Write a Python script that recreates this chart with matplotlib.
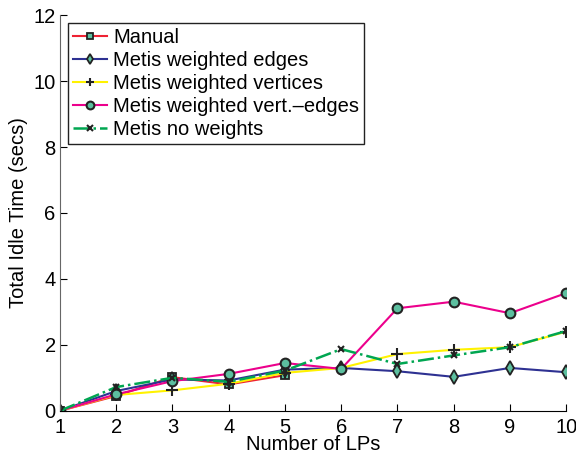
import numpy as np
import matplotlib
matplotlib.use('Agg')
import matplotlib.pyplot as plt

plt.rcParams['font.family'] = ['Liberation Sans', 'DejaVu Sans']

lps = [1, 2, 3, 4, 5, 6, 7, 8, 9, 10]

manual = [0, 0.45, 1.02, 0.8, 1.08]
w_edges = [0, 0.6, 0.95, 0.92, 1.25, 1.3, 1.2, 1.03, 1.3, 1.17]
w_vertices = [0, 0.48, 0.62, 0.82, 1.15, 1.3, 1.72, 1.85, 1.93, 2.4]
w_vert_edges = [0, 0.5, 0.9, 1.12, 1.45, 1.27, 3.11, 3.31, 2.96, 3.57]
no_weights = [0, 0.72, 1.0, 0.88, 1.22, 1.87, 1.42, 1.68, 1.93, 2.42]

labels = ['Manual', 'Metis weighted edges', 'Metis weighted vertices',
          'Metis weighted vert.\u2013edges', 'Metis no weights']

face = '#5cbf9f'

fig = plt.figure(figsize=(5.76, 4.59), dpi=100)
ax = fig.add_axes([0.104, 0.105, 0.879, 0.862])

ax.plot(lps[:len(manual)], manual, color='#ee2233', lw=1.5, marker='s', ms=6,
        mfc=face, mec='#222222', mew=1.3, label=labels[0])
ax.plot(lps, w_edges, color='#2e3192', lw=1.5, marker='d', ms=7,
        mfc=face, mec='#222222', mew=1.3, label=labels[1])
ax.plot(lps, w_vertices, color='#fff200', lw=1.5, marker='+', ms=8,
        mec='#222222', mew=1.5, label=labels[2])
ax.plot(lps, w_vert_edges, color='#ec008c', lw=1.5, marker='o', ms=7,
        mfc=face, mec='#222222', mew=1.5, label=labels[3])
ax.plot(lps, no_weights, color='#00a651', lw=1.8, ls='-.', marker='x', ms=5,
        mec='#222222', mew=1.5, label=labels[4])

ax.set_xlim(1, 10)
ax.set_ylim(0, 12)
ax.set_xticks(lps)
ax.set_yticks(range(0, 13, 2))
ax.spines['top'].set_visible(False)
ax.spines['right'].set_visible(False)
ax.spines['left'].set_color('#666666')
ax.tick_params(direction='in', labelsize=14.5, length=5)
ax.tick_params(axis='x', pad=5)
ax.tick_params(axis='y', pad=3)
ax.set_xlabel('Number of LPs', fontsize=14.5, labelpad=-1)
ax.set_ylabel('Total Idle Time (secs)', fontsize=14.5, labelpad=4)

leg = ax.legend(loc='upper left', fontsize=14.5, handlelength=1.7,
                borderaxespad=0.4, fancybox=False, framealpha=1,
                edgecolor='#222222', borderpad=0.25, labelspacing=0.2,
                handletextpad=0.3, markerscale=0.8)
leg.get_frame().set_linewidth(1.0)

fig.savefig('out.png', dpi=100)
